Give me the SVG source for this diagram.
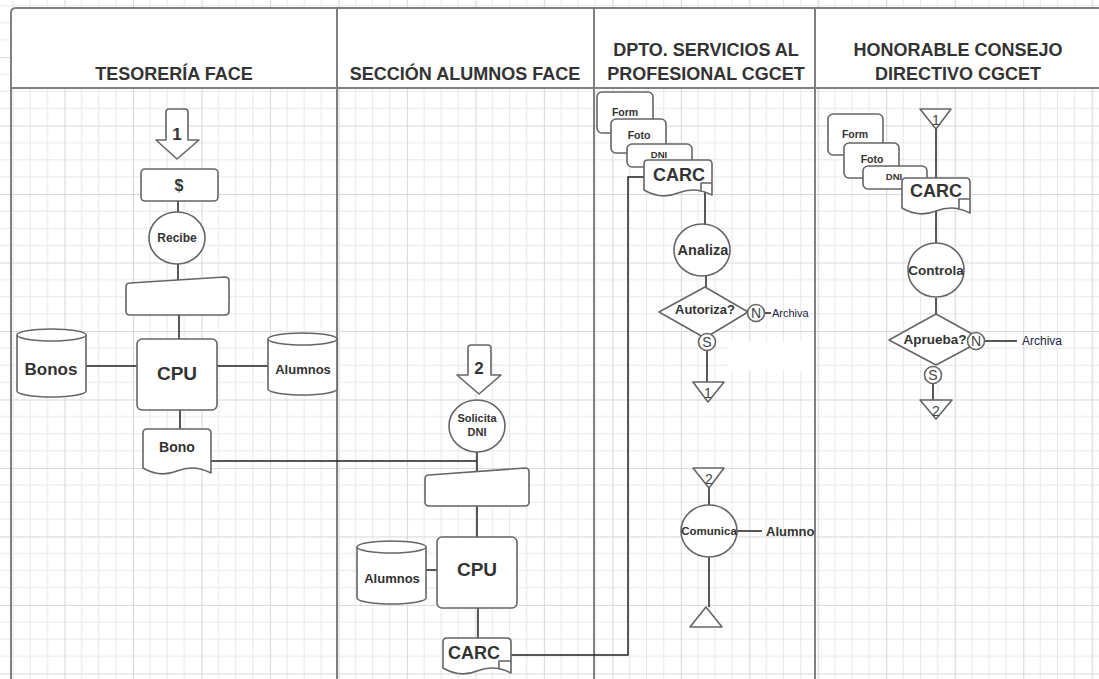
<svg xmlns="http://www.w3.org/2000/svg" width="1099" height="679" viewBox="0 0 1099 679">
<style>
.shape{fill:#fff;stroke:#666;stroke-width:1.6;stroke-linejoin:round}
.conn{fill:none;stroke:#222;stroke-width:1.5}
.lane{fill:none;stroke:#808080;stroke-width:2}
.t{font-family:"Liberation Sans",Arial,sans-serif;font-weight:bold;fill:#333;text-anchor:middle}
.h{font-family:"Liberation Sans",Arial,sans-serif;font-weight:bold;fill:#333;text-anchor:middle;font-size:18px}
.lbl{font-family:"Liberation Sans",Arial,sans-serif;fill:#222244;font-size:11px}
.sm{font-family:"Liberation Sans",Arial,sans-serif;fill:#444;text-anchor:middle;font-size:14px}
</style>
<defs>
<pattern id="grid" patternUnits="userSpaceOnUse" x="-4" y="-11.4" width="68.48" height="68.48">
<path d="M17.12,0V68.48M34.24,0V68.48M51.36,0V68.48M0,17.12H68.48M0,34.24H68.48M0,51.36H68.48" stroke="#e8e8e8" stroke-width="1" fill="none"/>
<path d="M0.5,0V68.48M0,0.5H68.48" stroke="#d8d8d8" stroke-width="1.2" fill="none"/>
</pattern>
</defs>
<rect width="1099" height="679" fill="#fff"/>
<rect width="1099" height="679" fill="url(#grid)"/>
<rect x="11" y="8" width="1088" height="80" fill="#fff"/>
<rect x="729" y="342" width="86" height="28" fill="#fff"/>
<g id="lanes">
<path class="lane" d="M11,679V13Q11,8 16,8H1099"/>
<path class="lane" d="M11,88H1099"/>
<path class="lane" d="M337,8V679M594,8V679M815,8V679"/>
<text class="h" x="174" y="80">TESORERÍA FACE</text>
<text class="h" x="465" y="80">SECCIÓN ALUMNOS FACE</text>
<text class="h" x="706" y="56">DPTO. SERVICIOS AL</text>
<text class="h" x="706" y="80">PROFESIONAL CGCET</text>
<text class="h" x="958" y="56">HONORABLE CONSEJO</text>
<text class="h" x="958" y="80">DIRECTIVO CGCET</text>
</g>
<g id="connectors">
<path class="conn" d="M178,201V212M178,264V280M179,315V339M86,366H137M217,366H268M180,410V429"/>
<path class="conn" d="M211,461H477M477,452V471M477,506V537M426,570H437M478,608V638"/>
<path class="conn" d="M511,655H628V177H644"/>
<path class="conn" d="M705,192V224M706,276V287M765,313H771M707,350V382"/>
<path class="conn" d="M709,488V505M737,531H762M709,557V607"/>
<path class="conn" d="M936,129V178M936,211V243M936,298V314M984,341H1017M933,383V400"/>
</g>
<g id="n_off1"><path class="shape" d="M166,112Q166,109 169,109H185Q188,109 188,112V140H199L177,159L156,140H166Z"/><text class="t" x="177" y="140" font-size="17">1</text></g>
<g id="n_dollar"><rect class="shape" x="141" y="169" width="77" height="32" rx="4"/><text class="t" x="179" y="191" font-size="16">$</text></g>
<g id="n_recibe"><ellipse class="shape" cx="177" cy="238" rx="28" ry="26"/><text class="t" x="177" y="242" font-size="12">Recibe</text></g>
<g id="n_input1"><path class="shape" d="M126,287Q126,283 130,283L225,277Q229,277 229,281V311Q229,315 225,315H130Q126,315 126,311Z"/></g>
<g id="n_cpu1"><rect class="shape" x="137" y="339" width="80" height="71" rx="5"/><text class="t" x="177" y="380" font-size="19">CPU</text></g>
<g id="n_bonos"><path class="shape" d="M17,335A34.5,6 0 0 1 86,335V391A34.5,6 0 0 1 17,391Z"/><path class="shape" fill="none" d="M17,335A34.5,6 0 0 0 86,335"/><text class="t" x="51" y="375" font-size="17">Bonos</text></g>
<g id="n_alumnos1"><path class="shape" d="M268,339A34.5,6 0 0 1 337,339V389A34.5,6 0 0 1 268,389Z"/><path class="shape" d="M268,339A34.5,6 0 0 0 337,339"/><text class="t" x="303" y="374" font-size="13">Alumnos</text></g>
<g id="n_bono"><path class="shape" d="M143,468V433Q143,429 147,429H207Q211,429 211,433V473Q194,464 177,471Q160,478 143,468Z"/><text class="t" x="177" y="452" font-size="14">Bono</text></g>
<g id="n_off2"><path class="shape" d="M468,348Q468,345 471,345H488Q491,345 491,348V375H501L479,394L457,375H468Z"/><text class="t" x="479" y="374" font-size="17">2</text></g>
<g id="n_solicita"><ellipse class="shape" cx="477" cy="426" rx="28" ry="26"/><text class="t" x="477" y="422" font-size="11">Solicita</text><text class="t" x="477" y="436" font-size="11">DNI</text></g>
<g id="n_input2"><path class="shape" d="M425,479Q425,475 429,475L525,468Q529,468 529,472V502Q529,506 525,506H429Q425,506 425,502Z"/></g>
<g id="n_cpu2"><rect class="shape" x="437" y="537" width="80" height="71" rx="5"/><text class="t" x="477" y="576" font-size="19">CPU</text></g>
<g id="n_alumnos2"><path class="shape" d="M357,547A34.5,6 0 0 1 426,547V598A34.5,6 0 0 1 357,598Z"/><path class="shape" d="M357,547A34.5,6 0 0 0 426,547"/><text class="t" x="392" y="583" font-size="13">Alumnos</text></g>
<g id="n_carc1"><path class="shape" d="M443,668V642Q443,638 447,638H507Q511,638 511,642V673Q494,664 477,671Q460,678 443,668Z"/><path class="shape" d="M499,669V661H511"/><text class="t" x="474" y="659" font-size="18">CARC</text></g>
<g id="n_docs_dpto">
<rect class="shape" x="597" y="92" width="56" height="41" rx="5"/><text class="t" x="625" y="116" font-size="10.5">Form</text>
<rect class="shape" x="611" y="119" width="55" height="34" rx="5"/><text class="t" x="639" y="139" font-size="10.5">Foto</text>
<rect class="shape" x="627" y="144" width="65" height="23" rx="5"/><text class="t" x="659" y="158" font-size="9.5">DNI</text>
</g>
<g id="n_carc2"><path class="shape" d="M644,190V164Q644,160 648,160H708Q712,160 712,164V195Q695,186 678,193Q661,200 644,190Z"/><path class="shape" d="M701,192V183H712"/><text class="t" x="679" y="181" font-size="18">CARC</text></g>
<g id="n_analiza"><ellipse class="shape" cx="702" cy="250" rx="28" ry="26"/><text class="t" x="703" y="255" font-size="14.5">Analiza</text></g>
<g id="n_autoriza"><path class="shape" d="M705,287L748,312L705,338L659,312Z"/><text class="t" x="705" y="314" font-size="13">Autoriza?</text></g>
<g id="n_n1"><circle class="shape" cx="756" cy="313" r="8.5"/><text class="sm" x="756" y="318">N</text></g>
<g id="n_s1"><circle class="shape" cx="707" cy="342" r="8.5"/><text class="sm" x="707" y="347">S</text></g>
<g id="n_archiva1"><text class="lbl" x="772" y="317">Archiva</text></g>
<g id="n_tri1"><path class="shape" d="M693,382H724L708,402Z"/><text class="sm" x="708" y="398">1</text></g>
<g id="n_tri2"><path class="shape" d="M693,468H724L709,488Z"/><text class="sm" x="709" y="484">2</text></g>
<g id="n_comunica"><ellipse class="shape" cx="709" cy="531" rx="28" ry="26"/><text class="t" x="709" y="535" font-size="11.5">Comunica</text></g>
<g id="n_alumno"><text class="t" x="766" y="536" font-size="13" style="text-anchor:start">Alumno</text></g>
<g id="n_end"><path class="shape" d="M706,607L722,627H690Z"/></g>
<g id="n_docs_hon">
<rect class="shape" x="828" y="114" width="55" height="41" rx="5"/><text class="t" x="855" y="138" font-size="10.5">Form</text>
<rect class="shape" x="844" y="143" width="55" height="35" rx="5"/><text class="t" x="872" y="163" font-size="10.5">Foto</text>
<rect class="shape" x="863" y="166" width="64" height="23" rx="5"/><text class="t" x="894" y="180" font-size="9.5">DNI</text>
</g>
<g id="n_tri3"><path class="shape" d="M920,109H951L936,129Z"/><text class="sm" x="936" y="125">1</text></g>
<g id="n_carc3"><path class="shape" d="M902,208V182Q902,178 906,178H966Q970,178 970,182V213Q953,204 936,211Q919,218 902,208Z"/><path class="shape" d="M959,210V199H970"/><text class="t" x="936" y="197" font-size="18">CARC</text></g>
<g id="n_controla"><ellipse class="shape" cx="936" cy="270" rx="28" ry="27"/><text class="t" x="936" y="275" font-size="13.5">Controla</text></g>
<g id="n_aprueba"><path class="shape" d="M936,314L983,340L936,365L889,340Z"/><text class="t" x="935" y="344" font-size="13.5">Aprueba?</text></g>
<g id="n_n2"><circle class="shape" cx="976" cy="341" r="8.5"/><text class="sm" x="976" y="346">N</text></g>
<g id="n_archiva2"><text class="lbl" x="1022" y="345" style="font-size:12px">Archiva</text></g>
<g id="n_s2"><circle class="shape" cx="933" cy="375" r="8.5"/><text class="sm" x="933" y="380">S</text></g>
<g id="n_tri4"><path class="shape" d="M920,400H952L936,419Z"/><text class="sm" x="936" y="416">2</text></g>
</svg>
